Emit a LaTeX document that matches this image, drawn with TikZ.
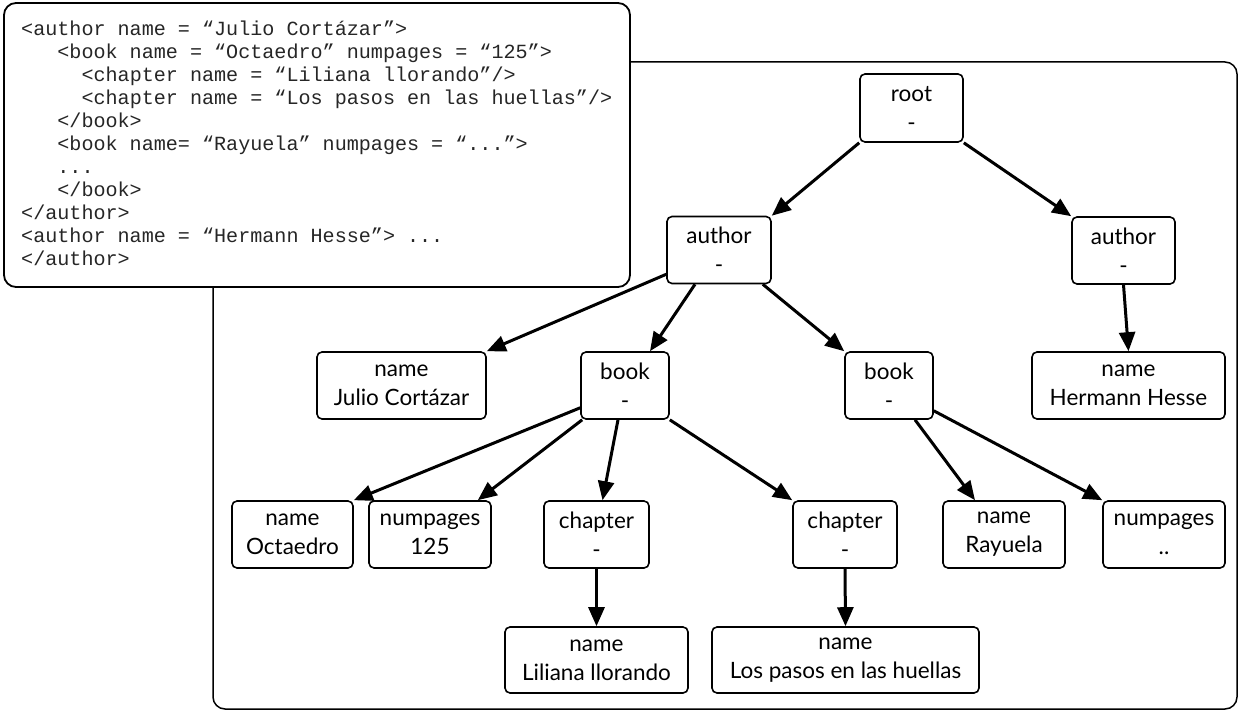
\documentclass[tikz,border=0pt]{standalone}
\usepackage{fontspec}
\setmainfont{Lato}
\setmonofont{Liberation Mono}
\usetikzlibrary{arrows.meta,calc}

\begin{document}
\begin{tikzpicture}[x=1pt,y=-1pt,
  box/.style={draw,line width=1.6pt,rounded corners=5pt,align=center,inner sep=0pt,
    minimum height=67pt,font=\fontsize{22.5}{29}\selectfont},
  edge/.style={line width=3pt,-{Triangle[length=19pt,width=16pt]}}]
\useasboundingbox (0,0) rectangle (1239,711);

% tree frame and xml source
\draw[line width=1.5pt,rounded corners=12pt] (213,62) rectangle (1237,709);
\draw[line width=1.8pt,rounded corners=12pt,fill=white] (4,3) rectangle (630,287);
\node[anchor=north west,align=left,inner sep=0pt,text=black!85,
  font=\ttfamily\fontsize{20.1}{23}\selectfont] (xml) at (21,21)
  {<author name = “Julio Cortázar”>\\
   \ \ \ <book name = “Octaedro” numpages = “125”>\\
   \ \ \ \ \ <chapter name = “Liliana llorando”/>\\
   \ \ \ \ \ <chapter name = “Los pasos en las huellas”/>\\
   \ \ \ </book>\\
   \ \ \ <book name= “Rayuela” numpages = “...”>\\
   \ \ \ ...\\
   \ \ \ </book>\\
   </author>\\
   <author name = “Hermann Hesse”> ...\\
   </author>};

% nodes
\node[box,minimum width=103pt,minimum height=68pt] (root) at (911.5,108) {root\\-};
\node[box,minimum width=104pt] (author1) at (719,250) {author\\-};
\node[box,minimum width=103pt] (author2) at (1123.5,250.5) {author\\-};
\node[box,minimum width=169pt] (julio) at (401.5,385.5) {name\\Julio Cortázar};
\node[box,minimum width=88pt] (book1) at (625,385.5) {book\\-};
\node[box,minimum width=88pt] (book2) at (889,385.5) {book\\-};
\node[box,minimum width=193pt] (hesse) at (1128.5,385.5) {name\\Hermann Hesse};
\node[box,minimum width=121pt] (octaedro) at (292.5,534.5) {name\\Octaedro};
\node[box,minimum width=122pt] (pages1) at (430,534.5) {numpages\\125};
\node[box,minimum width=105pt] (chapter1) at (596.5,534.5) {chapter\\-};
\node[box,minimum width=104pt] (chapter2) at (845,534.5) {chapter\\-};
\node[box,minimum width=122pt] (rayuela) at (1004,534.5) {name\\Rayuela};
\node[box,minimum width=122pt] (pages2) at (1164,534.5) {numpages\\..};
\node[box,minimum width=183pt,minimum height=66pt] (liliana) at (596.5,660) {name\\Liliana llorando};
\node[box,minimum width=267pt,minimum height=66pt] (pasos) at (845.5,660) {name\\Los pasos en las huellas};

% edges
\draw[edge] (root.south west) -- (author1.north east);
\draw[edge] (root.south east) -- (author2.north west);
\draw[edge] (author2.south) -- (hesse.north);
\draw[edge] ($(author1.south west)+(0,-10)$) -- (julio.north east);
\draw[edge] ($(author1.south)+(-24,0)$) -- ($(book1.north)+(25,0)$);
\draw[edge] ($(author1.south east)+(-9,0)$) -- (book2.north west);
\draw[edge] ($(book1.south west)+(0,-12)$) -- (octaedro.north east);
\draw[edge] ($(book1.south west)+(2,0)$) -- ($(pages1.north east)+(-14,0)$);
\draw[edge] ($(book1.south)+(-7,0)$) -- ($(chapter1.north)+(6,0)$);
\draw[edge] (book1.south east) -- (chapter2.north west);
\draw[edge] ($(book2.south)+(26,0)$) -- ($(rayuela.north)+(-29,0)$);
\draw[edge] ($(book2.south east)+(0,-9)$) -- (pages2.north west);
\draw[edge] (chapter1.south) -- (liliana.north);
\draw[edge] (chapter2.south) -- (pasos.north);
\end{tikzpicture}
\end{document}
